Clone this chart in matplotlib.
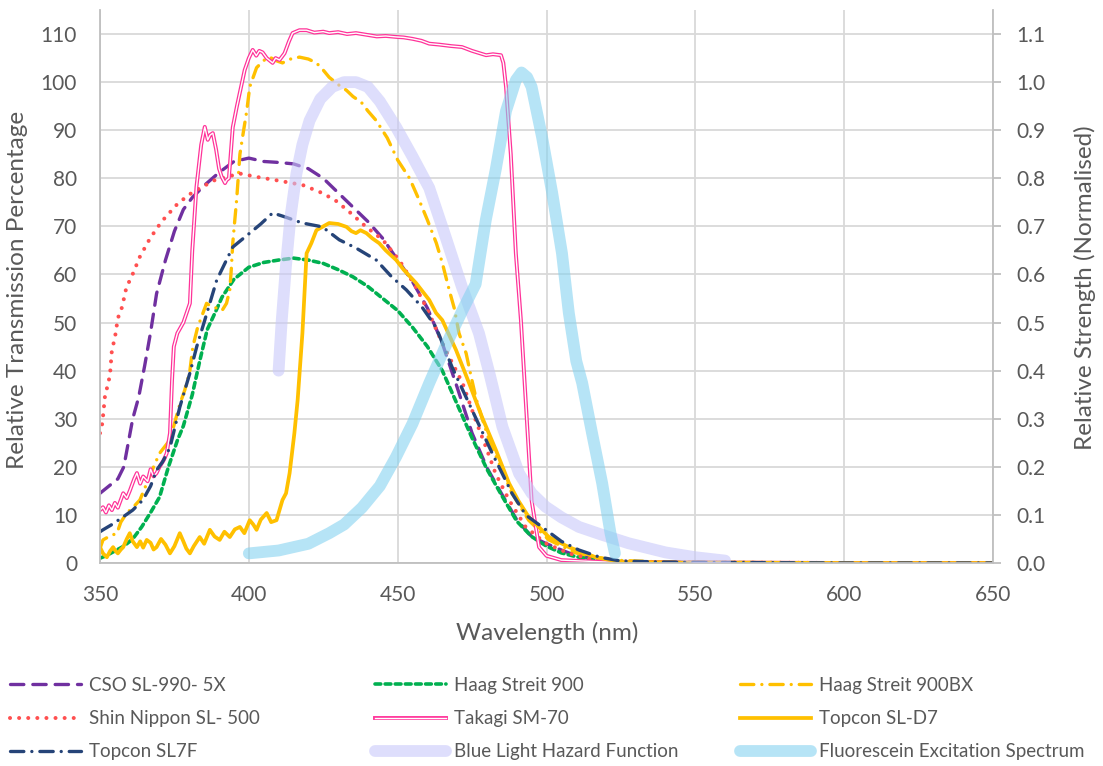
import matplotlib
matplotlib.use("Agg")
from matplotlib import pyplot as plt
import numpy as np

# ---- data ----
cso_nm = [350, 352, 354, 356, 358, 359.5, 361, 363, 365, 367, 369, 372, 375, 378, 381, 385, 390, 395,
          400, 405, 410, 415, 420, 425, 430, 435, 440, 445, 450, 455, 460, 465, 470, 475, 480, 485,
          490, 495, 500, 505, 510, 520, 530, 550, 600, 650]
cso_pct = [14.5, 15.5, 16.5, 17.5, 20, 25, 30, 34.5, 41, 48, 56, 63, 69, 73.5, 76, 78.5, 81.2, 83.5,
           84.2, 83.5, 83.3, 83, 82, 80, 77, 74, 71, 67.5, 63, 58.5, 53, 45.7, 36.5, 27, 19.8, 14.3,
           9, 5.5, 4, 2.7, 1.5, 0.5, 0.2, 0.1, 0, 0]

h900_nm = [350, 352, 355, 358, 361, 364, 367, 370, 373, 376, 378, 381, 383.5, 386, 389, 391, 395, 400,
           405, 410, 415, 420, 425, 430, 435, 440, 445, 450, 455, 460, 465, 470, 475, 480, 485, 490,
           495, 500, 505, 510, 520, 530, 550, 600, 650]
h900_pct = [1, 1.5, 2.5, 3.5, 5, 7.5, 10.5, 13.7, 20, 25.5, 28.5, 35, 42, 48.5, 52.5, 55.3, 59, 61.5,
            62.5, 63, 63.4, 63, 62.3, 61, 59.5, 57.5, 55, 52.5, 49, 45, 40, 33, 26, 19.5, 14, 8.7,
            5.5, 3.5, 2.1, 1.3, 0.4, 0.2, 0.1, 0, 0]

hbx_nm = [350, 351, 353, 355.7, 357, 359, 361, 363.4, 366, 368, 370, 373.5, 376.8, 378.5, 380.2,
          381.2, 382.8, 385.8, 387, 389.2, 391, 392.5, 393.6, 394.1, 394.6, 395.2, 395.9, 397, 398,
          399.3, 400.3, 402.6, 405, 407, 409, 411.3, 414, 417, 420, 422.7, 425, 427, 430, 432.8, 435,
          437.8, 440, 442.8, 446.5, 450, 454, 457.2, 460, 463, 465, 467.3, 469, 470.6, 473, 474.7,
          476.3, 478, 480.7, 484, 488.4, 494, 500.8, 509.8, 522, 540, 560, 600, 650]
hbx_pct = [3, 4.8, 5.5, 6.2, 8.5, 10.4, 11.5, 13.1, 17, 20, 22.8, 25.6, 33, 36, 40, 45, 49, 54, 53.5,
           53, 52.5, 54, 56.8, 61, 66.5, 70.7, 75.5, 85, 89, 94, 99, 103, 104.5, 105.2, 104.5, 104,
           104.8, 105.2, 104.8, 104, 102.5, 101, 99.5, 98.3, 97, 95.8, 94, 92, 88.4, 83.8, 80, 75.5,
           71.3, 66.5, 62.4, 56.8, 53, 47.8, 43.6, 38.7, 34.3, 30.8, 25.6, 20.8, 14.5, 8.9, 4.8, 2.1,
           0.6, 0.2, 0.1, 0, 0]

shin_nm = [350, 350.6, 351, 351.7, 352.8, 353.4, 354, 355, 356, 357.4, 358.9, 360.6, 363.4, 366.8,
           370.7, 376.2, 381.3, 388.5, 396.9, 402.5, 409.2, 418.1, 424.8, 429.3, 433.8, 439.4, 445,
           450.5, 456.1, 460.6, 465, 471.8, 476.2, 479.6, 482.9, 487.4, 493, 499.7, 507.5, 516.4, 530,
           560, 600, 650]
shin_pct = [27, 28.3, 30.4, 34.9, 37.4, 39.5, 44.3, 46.8, 50.9, 53.2, 57.4, 59.5, 63.7, 67.5, 71, 74.8,
            77.2, 79.6, 81, 80.3, 79.6, 78.6, 76.9, 75.3, 73, 69.9, 67.2, 63, 57.4, 51.9, 45.7, 37.4,
            29.7, 24.2, 18.6, 13.1, 7.5, 4.1, 2, 0.6, 0.2, 0.1, 0, 0]

tak_nm = [350, 351, 352, 353, 354, 355, 356, 357.8, 359, 360, 361.5, 362.4, 363.5, 364.5, 366, 367,
          368, 369, 370, 371.5, 372.4, 373.5, 374.2, 374.8, 376, 378, 380.2, 381, 382.4, 384, 385.2,
          386.2, 387, 387.9, 389, 390, 390.9, 392, 392.5, 393.3, 394.6, 396, 398.6, 400, 401.3, 402.5,
          403.5, 404.6, 406, 408, 409, 410.3, 412, 413.5, 414.7, 417, 419.4, 422, 425, 427, 430, 433,
          436, 440, 443, 446, 449.5, 452, 455, 458, 460.6, 464, 468, 471.6, 475, 479.7, 482, 484.7,
          485.5, 486.4, 488, 489.7, 491.4, 493, 495, 497.5, 500, 505, 520, 550, 600, 650]
tak_pct = [11, 11.6, 10.5, 12, 11, 12.5, 11.5, 14.5, 13.5, 15, 17.5, 18.7, 16.5, 18, 17, 19.5, 18,
           18.7, 20, 21.5, 22.8, 27, 38, 45, 47.8, 50, 54, 65, 78.2, 87, 90.7, 88, 89, 89.4, 86, 82,
           80.3, 79, 79.6, 80, 90.6, 95, 102.5, 105, 106.7, 105.5, 106.5, 106.2, 105, 104, 105, 104.6,
           106, 108.5, 110.2, 110.8, 110.8, 110.3, 110.5, 110.2, 110.4, 110, 110.2, 109.8, 109.5,
           109.6, 109.4, 109.3, 109, 108.6, 108, 107.8, 107.5, 107.3, 106.5, 105.6, 105.8, 105.6, 104,
           99, 85, 64.4, 50.5, 33.9, 13, 3.3, 1.5, 0.6, 0.2, 0.1, 0, 0]

sd7_nm = [350, 351, 352.3, 353.4, 354.4, 355.2, 356, 357, 357.8, 359, 360, 361, 362.4, 363.5, 364.5,
          365.7, 367, 368, 369, 370.5, 372, 373.5, 375, 376.8, 378, 379, 380.2, 381.5, 383.5, 385,
          386.9, 388.5, 390.2, 391.8, 393.6, 395.3, 397, 398.5, 400.3, 401.5, 402.6, 404, 406, 407.5,
          409.3, 410.3, 411.3, 412.5, 413.7, 415.3, 416.4, 418, 419.4, 421, 422.7, 425, 427, 430,
          432.8, 434.5, 436, 437.5, 439.5, 441.5, 443.8, 446, 449.5, 452, 456.2, 460.6, 462.9, 465,
          469.6, 474, 478.3, 483, 487.4, 490.5, 494, 500.8, 507.5, 516.5, 525, 550, 600, 650]
sd7_pct = [3.3, 2, 1.2, 2.5, 3.3, 2.5, 2, 2.8, 3.3, 5, 6.2, 4.5, 3.3, 4.5, 3.2, 4.8, 4.2, 2.8, 3.3, 5,
           3.8, 2, 3.5, 6.2, 4.5, 3, 2, 3.5, 5.4, 4, 6.9, 5.5, 4.8, 6.5, 5.4, 7, 7.5, 6.2, 8.9, 8,
           6.9, 9, 10.4, 8.5, 8.9, 11, 13.1, 14.5, 18.7, 27, 33.9, 47.8, 64.4, 66.5, 69.2, 70, 70.7,
           70.5, 69.9, 69, 68.6, 69.2, 68.6, 67.5, 66.5, 65, 63, 61, 58.2, 54.7, 52, 50.5, 44.3, 37.4,
           30.4, 23.5, 16.6, 13, 9.6, 5.4, 3.3, 1.2, 0.2, 0.1, 0, 0]

s7f_nm = [350, 351, 354, 357.8, 361, 364.4, 367, 369, 371, 373.5, 376.8, 380.2, 382.5, 385.2, 389.2,
          394.6, 400.3, 404, 408, 412, 418, 424.7, 430.4, 436, 442.8, 448, 452.9, 458.2, 462.9, 468.3,
          475, 481.7, 488.4, 493, 498.5, 505, 510.9, 518, 525, 540, 560, 600, 650]
s7f_pct = [6.5, 6.9, 8, 9.6, 11, 13.1, 16, 19.3, 21, 24, 32.4, 39.5, 45, 50.5, 58.8, 65.7, 68.6, 70.5,
           72.8, 72, 70.7, 69.9, 67.2, 65.5, 63, 59.5, 56.8, 53.2, 49, 40.7, 31.8, 22.9, 14.5, 10,
           7.5, 4.5, 2.7, 1.2, 0.4, 0.2, 0.1, 0, 0]

blh_nm = [410, 411, 412.5, 414, 416, 418, 420.4, 424, 428, 432, 436, 440, 444, 449.5, 455, 460.6, 466,
          471.6, 477.3, 481, 485.2, 490.8, 495, 499.7, 505, 510.9, 518, 527.6, 540, 550, 560]
blh_rel = [0.40, 0.50, 0.62, 0.72, 0.81, 0.87, 0.92, 0.965, 0.99, 1.0, 1.0, 0.99, 0.96, 0.906, 0.845,
           0.78, 0.68, 0.574, 0.478, 0.39, 0.283, 0.186, 0.145, 0.117, 0.095, 0.075, 0.06, 0.041,
           0.022, 0.012, 0.005]

flu_nm = [400, 410, 420, 427, 432, 438, 444, 449.4, 455, 460.6, 466, 471.8, 476.2, 479.6, 483, 486.4,
          489.7, 491.6, 493.5, 495, 498.5, 501.9, 505.2, 507.5, 510, 512, 515.3, 518.7, 521.5, 523]
flu_rel = [0.02, 0.026, 0.04, 0.062, 0.08, 0.115, 0.16, 0.22, 0.29, 0.374, 0.45, 0.526, 0.58, 0.713,
           0.82, 0.94, 1.004, 1.02, 1.01, 0.99, 0.886, 0.77, 0.644, 0.52, 0.42, 0.374, 0.27, 0.166,
           0.062, 0.02]

x_ticks = [350, 400, 450, 500, 550, 600, 650]
pct_ticks = [0, 10, 20, 30, 40, 50, 60, 70, 80, 90, 100, 110]
rel_ticks = [0.0, 0.1, 0.2, 0.3, 0.4, 0.5, 0.6, 0.7, 0.8, 0.9, 1.0, 1.1]

# ---- styling ----
plt.rcParams['font.family'] = ['Lato', 'DejaVu Sans']
grey_txt = '#595959'
grid_c = '#d9d9d9'
spine_c = '#bfbfbf'
LW = 2.4

fig = plt.figure(figsize=(11.03, 7.66), dpi=100)
ax = fig.add_axes([100 / 1103, 1 - 563 / 766, 893 / 1103, 553 / 766])
ax2 = ax.twinx()

ax.set_xlim(350, 650)
ax.set_ylim(0, 115)
ax2.set_ylim(0, 1.15)
ax.set_xticks(x_ticks)
ax.set_yticks(pct_ticks)
ax2.set_yticks(rel_ticks)
ax2.set_yticklabels([f'{v:.1f}' for v in rel_ticks])

ax.grid(True, color=grid_c, lw=1.3)
ax.set_axisbelow(True)
for a in (ax, ax2):
    for s in ('top', 'left', 'right', 'bottom'):
        a.spines[s].set_visible(False)
ax.spines['left'].set_visible(True)
ax.spines['bottom'].set_visible(True)
ax2.spines['right'].set_visible(True)
for s in (ax.spines['left'], ax.spines['bottom'], ax2.spines['right']):
    s.set_color(spine_c)
    s.set_linewidth(1.3)

ax.tick_params(axis='y', length=0, labelsize=15, colors=grey_txt, pad=16.5)
ax.tick_params(axis='x', length=0, labelsize=15, colors=grey_txt, pad=16)
ax2.tick_params(axis='y', length=5.5, width=1.3, color=spine_c, labelcolor=grey_txt,
                labelsize=15, pad=11.5)

fig.text(547 / 1103, 1 - 633 / 766, 'Wavelength (nm)', ha='center', va='center',
         fontsize=17.5, color=grey_txt)
fig.text(18 / 1103, 1 - 290 / 766, 'Relative Transmission Percentage', ha='center', va='center',
         rotation=90, fontsize=17.5, color=grey_txt)
fig.text(1085 / 1103, 1 - 288 / 766, 'Relative Strength (Normalised)', ha='center', va='center',
         rotation=90, fontsize=17.5, color=grey_txt)

# ---- primary series ----
l_cso, = ax.plot(cso_nm, cso_pct, color='#7030a0', lw=LW, dashes=(4, 2.7), dash_capstyle='round')
l_h900, = ax.plot(h900_nm, h900_pct, color='#00b050', lw=2.6, dashes=(1.6, 1.2), dash_capstyle='round')
l_hbx, = ax.plot(hbx_nm, hbx_pct, color='#ffc000', lw=LW, dashes=(4, 2.4, 0.01, 2.4),
                 dash_capstyle='round')
l_shin, = ax.plot(shin_nm, shin_pct, color='#ff5050', lw=2.9, dashes=(0.01, 2.25), dash_capstyle='round')
l_tak1, = ax.plot(tak_nm, tak_pct, color='#ff3399', lw=2.8, solid_joinstyle='round')
l_tak2, = ax.plot(tak_nm, tak_pct, color='white', lw=1.0, solid_joinstyle='round')
l_sd7, = ax.plot(sd7_nm, sd7_pct, color='#ffc000', lw=2.7, solid_joinstyle='round')
l_s7f, = ax.plot(s7f_nm, s7f_pct, color='#264478', lw=LW, dashes=(4, 2.4, 0.01, 2.4),
                 dash_capstyle='round')

# ---- secondary series ----
l_blh, = ax2.plot(blh_nm, blh_rel, color='#c8c8fa', lw=8.5, alpha=0.6, solid_capstyle='round')
l_flu, = ax2.plot(flu_nm, flu_rel, color='#86d2f0', lw=8.5, alpha=0.6, solid_capstyle='round')

# ---- legend: three columns placed by hand ----
cols = [
    ([l_cso, l_shin, l_s7f], ['CSO SL-990- 5X', 'Shin Nippon SL- 500', 'Topcon SL7F'], 10),
    ([l_h900, (l_tak1, l_tak2), l_blh], ['Haag Streit 900', 'Takagi SM-70', 'Blue Light Hazard Function'], 375),
    ([l_hbx, l_sd7, l_flu], ['Haag Streit 900BX', 'Topcon SL-D7', 'Fluorescein Excitation Spectrum'], 740),
]
for hs, labs, x0 in cols:
    fig.legend(hs, labs, loc='upper left', bbox_to_anchor=(x0 / 1103, 1 - 677 / 766),
               frameon=False, fontsize=13.5, handlelength=3.8, handletextpad=0.4,
               labelspacing=0.86, borderaxespad=0, borderpad=0, labelcolor=grey_txt)

fig.savefig('out.png', dpi=100)
